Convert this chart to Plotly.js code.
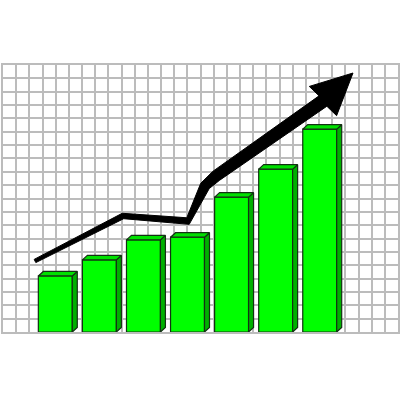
<!DOCTYPE html>
<html>
<head>
<meta charset="utf-8">
<script src="https://cdn.plot.ly/plotly-3.0.1.min.js"></script>
<style>html,body{margin:0;padding:0;background:#fff;}#chart{width:400px;height:400px;}</style>
</head>
<body>
<div id="chart"></div>
<script>
// ---- data ----
const categories = ['1', '2', '3', '4', '5', '6', '7'];
const barValues = [4.2, 5.4, 6.9, 7.1, 10.1, 12.2, 15.2];
// trend arrow centerline (grid units), last point is the arrow tip
const trendX = [2.43, 9.11, 14.05, 15.34, 16.18, 24.3, 26.58];
const trendY = [5.32, 8.69, 8.31, 10.94, 11.69, 17.3, 19.4];

// ---- layout constants ----
const W = 400, H = 400;
const M = {l: 3, r: 2, t: 65, b: 68};
const PW = W - M.l - M.r, PH = H - M.t - M.b;
const gridX = [0, 30], gridY = [0, 20];
const catRange = [-1.187, 7.776];
const sx = PW / (gridX[1] - gridX[0]);
const sy = PH / (gridY[1] - gridY[0]);
const sc = PW / (catRange[1] - catRange[0]);
const barW = 0.77;
const dx = 5 / sc, dy = 4.5 / sy;

const idx = categories.map((c, i) => i);

// 3D faces
const sideX = [], sideY = [], topX = [], topY = [];
idx.forEach((i) => {
  const v = barValues[i];
  const L = i - barW / 2, R = i + barW / 2;
  sideX.push(R, R + dx, R + dx, R, R, null);
  sideY.push(0, dy, v + dy, v, 0, null);
  topX.push(L, L + dx, R + dx, R, L, null);
  topY.push(v, v + dy, v + dy, v, v, null);
});

// arrow polygon, computed in pixel space
const halfW = [1.8, 2.8, 3.5, 5, 5.6, 6.5];
const headHalf = 20;
const toPx = (x, y) => [x * sx, -y * sy];
const toData = (p) => [p[0] / sx, -p[1] / sy];
const P = trendX.map((x, i) => toPx(x, trendY[i]));
const n = P.length;
const tip = P[n - 1];
const left = [], right = [];
for (let i = 0; i < n - 1; i++) {
  const a = P[Math.max(i - 1, 0)];
  const b = P[Math.min(i + 1, n - 1)];
  let tx = b[0] - a[0], ty = b[1] - a[1];
  const len = Math.hypot(tx, ty);
  tx /= len; ty /= len;
  const nx = -ty, ny = tx;
  const h = halfW[i];
  left.push([P[i][0] + h * nx, P[i][1] + h * ny]);
  right.push([P[i][0] - h * nx, P[i][1] - h * ny]);
}
const base = P[n - 2];
let hx = tip[0] - base[0], hy = tip[1] - base[1];
const hl = Math.hypot(hx, hy); hx /= hl; hy /= hl;
const wingL = [base[0] - hy * headHalf, base[1] + hx * headHalf];
const wingR = [base[0] + hy * headHalf, base[1] - hx * headHalf];
const poly = [...left, wingL, tip, wingR, ...right.reverse()];
poly.push(poly[0]);
const arrowX = poly.map(p => toData(p)[0]);
const arrowY = poly.map(p => toData(p)[1]);

const outline = '#143014';
const traces = [
  {type: 'bar', x: idx, y: barValues, width: barW, xaxis: 'x2', yaxis: 'y',
   marker: {color: '#00ff00', line: {color: outline, width: 1.2}}, hoverinfo: 'skip'},
  {type: 'scatter', mode: 'lines', x: sideX, y: sideY, xaxis: 'x2', fill: 'toself',
   fillcolor: '#00b000', line: {color: outline, width: 1.2}, hoverinfo: 'skip'},
  {type: 'scatter', mode: 'lines', x: topX, y: topY, xaxis: 'x2', fill: 'toself',
   fillcolor: '#00e000', line: {color: outline, width: 1.2}, hoverinfo: 'skip'},
  {type: 'scatter', mode: 'lines', x: arrowX, y: arrowY, xaxis: 'x', fill: 'toself',
   fillcolor: '#000000', line: {color: '#000000', width: 1}, hoverinfo: 'skip'}
];

const gridColor = '#bcbcbc';
const layout = {
  width: W, height: H,
  margin: M,
  paper_bgcolor: '#ffffff', plot_bgcolor: '#ffffff',
  showlegend: false,
  xaxis: {range: gridX, dtick: 1, showgrid: true, gridcolor: gridColor, gridwidth: 2,
          showticklabels: false, ticks: '', zeroline: false,
          showline: true, mirror: true, linecolor: gridColor, linewidth: 2, fixedrange: true},
  xaxis2: {range: catRange, overlaying: 'x', showgrid: false, showticklabels: false,
           ticks: '', zeroline: false, showline: false, fixedrange: true},
  yaxis: {range: gridY, dtick: 1, showgrid: true, gridcolor: gridColor, gridwidth: 2,
          showticklabels: false, ticks: '', zeroline: false,
          showline: true, mirror: true, linecolor: gridColor, linewidth: 2, fixedrange: true}
};

Plotly.newPlot('chart', traces, layout, {displayModeBar: false, staticPlot: true});
</script>
</body>
</html>
